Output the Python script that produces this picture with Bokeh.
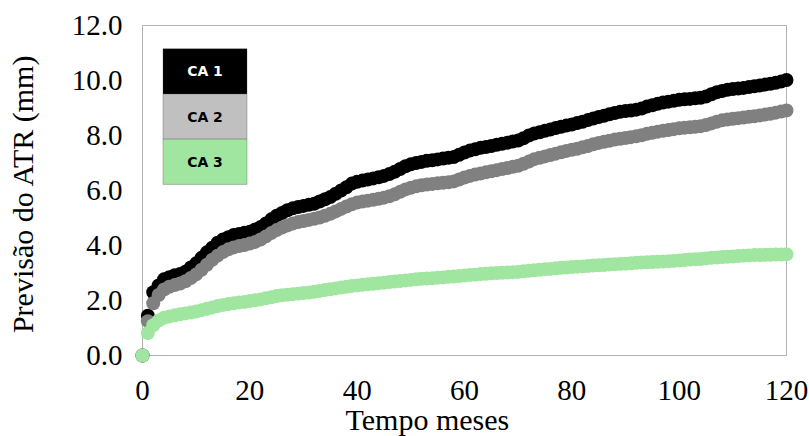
from bokeh.plotting import figure
from bokeh.models import Range1d, FixedTicker, PrintfTickFormatter, BoxAnnotation, Label, Title
from bokeh.embed import file_html
from bokeh.resources import INLINE

# ---------------- data ----------------
months = list(range(121))

ca1 = [0.00, 1.45, 2.30, 2.55, 2.77, 2.85, 2.92, 2.96, 3.05, 3.20,
       3.35, 3.55, 3.75, 3.92, 4.10, 4.22, 4.30, 4.38, 4.42, 4.46,
       4.50, 4.58, 4.67, 4.80, 4.95, 5.08, 5.18, 5.28, 5.35, 5.40,
       5.44, 5.48, 5.52, 5.60, 5.68, 5.76, 5.88, 6.00, 6.12, 6.25,
       6.32, 6.36, 6.40, 6.44, 6.48, 6.53, 6.60, 6.68, 6.78, 6.88,
       6.95, 7.00, 7.04, 7.08, 7.10, 7.13, 7.16, 7.19, 7.22, 7.30,
       7.38, 7.45, 7.50, 7.55, 7.58, 7.62, 7.66, 7.70, 7.74, 7.78,
       7.82, 7.90, 8.00, 8.07, 8.12, 8.17, 8.22, 8.27, 8.32, 8.36,
       8.40, 8.45, 8.50, 8.56, 8.62, 8.67, 8.72, 8.77, 8.82, 8.86,
       8.89, 8.91, 8.94, 8.98, 9.05, 9.10, 9.15, 9.20, 9.23, 9.26,
       9.30, 9.32, 9.33, 9.35, 9.37, 9.42, 9.50, 9.57, 9.62, 9.66,
       9.69, 9.71, 9.73, 9.76, 9.79, 9.82, 9.85, 9.88, 9.92, 9.96,
       10.02]

ca2 = [0.00, 1.25, 1.90, 2.20, 2.40, 2.50, 2.56, 2.62, 2.70, 2.82,
       2.95, 3.12, 3.30, 3.48, 3.63, 3.76, 3.86, 3.93, 3.98, 4.02,
       4.07, 4.13, 4.22, 4.33, 4.45, 4.56, 4.65, 4.73, 4.80, 4.85,
       4.89, 4.93, 4.97, 5.02, 5.08, 5.15, 5.24, 5.33, 5.42, 5.50,
       5.56, 5.60, 5.63, 5.66, 5.70, 5.74, 5.79, 5.86, 5.95, 6.04,
       6.10, 6.15, 6.19, 6.22, 6.24, 6.26, 6.28, 6.30, 6.33, 6.40,
       6.47, 6.53, 6.58, 6.62, 6.66, 6.70, 6.74, 6.78, 6.82, 6.86,
       6.90, 6.97, 7.05, 7.14, 7.19, 7.24, 7.29, 7.34, 7.39, 7.44,
       7.48, 7.52, 7.57, 7.62, 7.68, 7.73, 7.77, 7.81, 7.85, 7.88,
       7.91, 7.94, 7.97, 8.01, 8.06, 8.10, 8.14, 8.17, 8.20, 8.23,
       8.26, 8.28, 8.30, 8.32, 8.34, 8.38, 8.44, 8.50, 8.55, 8.58,
       8.61, 8.63, 8.65, 8.68, 8.70, 8.73, 8.76, 8.79, 8.83, 8.87,
       8.91]

ca3 = [0.00, 0.82, 1.10, 1.27, 1.37, 1.42, 1.46, 1.50, 1.53, 1.56,
       1.60, 1.65, 1.70, 1.75, 1.80, 1.84, 1.87, 1.90, 1.93, 1.95,
       1.98, 2.01, 2.04, 2.08, 2.12, 2.16, 2.19, 2.21, 2.23, 2.25,
       2.27, 2.29, 2.32, 2.35, 2.38, 2.41, 2.44, 2.47, 2.50, 2.53,
       2.55, 2.57, 2.59, 2.61, 2.63, 2.65, 2.67, 2.69, 2.71, 2.73,
       2.75, 2.77, 2.79, 2.80, 2.81, 2.83, 2.84, 2.86, 2.87, 2.89,
       2.91, 2.93, 2.94, 2.96, 2.97, 2.99, 3.00, 3.01, 3.02, 3.03,
       3.04, 3.06, 3.08, 3.10, 3.12, 3.14, 3.15, 3.17, 3.19, 3.20,
       3.22, 3.23, 3.24, 3.25, 3.27, 3.28, 3.29, 3.31, 3.32, 3.33,
       3.34, 3.35, 3.37, 3.38, 3.39, 3.40, 3.41, 3.42, 3.43, 3.44,
       3.45, 3.47, 3.49, 3.50, 3.51, 3.53, 3.55, 3.56, 3.58, 3.59,
       3.60, 3.62, 3.63, 3.64, 3.65, 3.65, 3.66, 3.66, 3.67, 3.67,
       3.68]

series_names = ["CA 1", "CA 2", "CA 3"]
series_colors = ["#000000", "#808080", "#a0e6a0"]
legend_fills = ["#000000", "#c0c0c0", "#a0e6a0"]
legend_text_colors = ["#ffffff", "#000000", "#000000"]

x_ticks = [0, 20, 40, 60, 80, 100, 120]
y_ticks = [0, 2, 4, 6, 8, 10, 12]
x_title = "Tempo meses"
y_title = "Previsão do ATR (mm)"

# ---------------- layout / style ----------------
PX_X = 644 / 120.0   # pixels per month
PX_Y = 27.5          # pixels per mm
X0_PX, Y0_PX = 142, 355   # pixel position of (0, 0)

p = figure(width=809, height=436, output_backend="svg", toolbar_location=None,
           x_range=Range1d(-1.4907, 121.4907), y_range=Range1d(-0.2909, 12.0727),
           min_border_left=134, min_border_right=15, min_border_top=23,
           min_border_bottom=73)
p.outline_line_color = None
p.grid.visible = False
p.background_fill_color = "white"
p.border_fill_color = "white"

# plot-area border (data extent 0..120, 0..12)
p.add_layout(BoxAnnotation(left=x_ticks[0], right=x_ticks[-1], bottom=y_ticks[0], top=y_ticks[-1],
                           fill_color=None, line_color="black", line_width=1,
                           level="underlay"))

for ys, c in zip([ca1, ca2, ca3], series_colors):
    p.scatter(months, ys, size=14, fill_color=c, line_color=None)

# legend boxes (pixel layout converted to data units)
leg_left_px, leg_right_px, leg_top_px, leg_h_px = 162.5, 246.5, 48.3, 45.2
for i, (name, fc, tc) in enumerate(zip(series_names, legend_fills, legend_text_colors)):
    top_px = leg_top_px + i * leg_h_px
    bot_px = top_px + leg_h_px
    left = (leg_left_px - X0_PX) / PX_X
    right = (leg_right_px - X0_PX) / PX_X
    top = (Y0_PX - top_px) / PX_Y
    bot = (Y0_PX - bot_px) / PX_Y
    p.add_layout(BoxAnnotation(left=left, right=right, top=top, bottom=bot,
                               fill_color=fc, fill_alpha=1.0,
                               line_color="#3a3a3a", line_width=1))
    p.add_layout(Label(x=(left + right) / 2, y=(top + bot) / 2, text=name,
                       text_align="center", text_baseline="middle",
                       text_font="DejaVu Sans", text_font_style="bold",
                       text_font_size="14px", text_color=tc))

# axes
p.xaxis.ticker = FixedTicker(ticks=x_ticks)
p.yaxis.ticker = FixedTicker(ticks=y_ticks)
p.yaxis.formatter = PrintfTickFormatter(format="%.1f")
for ax in p.axis:
    ax.axis_line_color = None
    ax.major_tick_line_color = None
    ax.minor_tick_line_color = None
    ax.major_tick_out = 0
    ax.major_tick_in = 0
    ax.minor_tick_out = 0
    ax.major_label_text_font = "Liberation Serif"
    ax.major_label_text_font_size = "29px"
    ax.major_label_text_color = "black"
p.xaxis.major_label_standoff = 17
p.yaxis.major_label_standoff = 12
p.yaxis.axis_label = y_title
p.yaxis.axis_label_standoff = 30
p.yaxis.axis_label_text_font = "Liberation Serif"
p.yaxis.axis_label_text_font_size = "30px"
p.yaxis.axis_label_text_font_style = "normal"
p.yaxis.axis_label_text_color = "black"

p.add_layout(Title(text=x_title, align="left", offset=211, standoff=-3,
                   text_font="Liberation Serif", text_font_size="30px",
                   text_font_style="normal", text_color="black"), "below")

open("out.html", "w").write(file_html(p, INLINE))
